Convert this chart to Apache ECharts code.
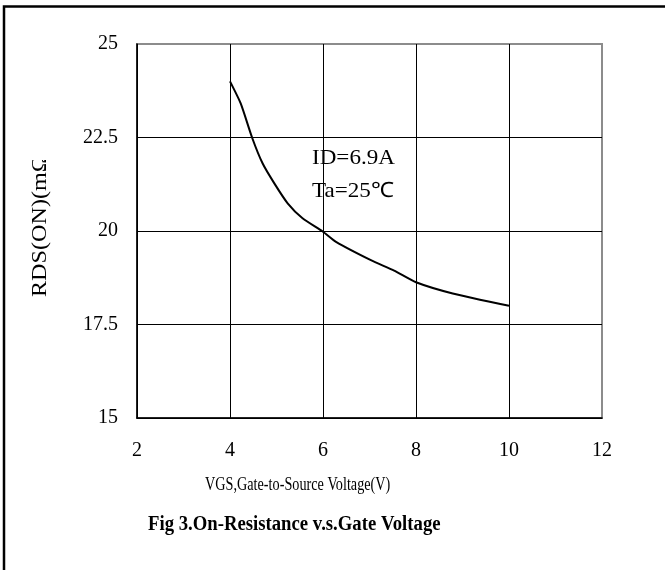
<!DOCTYPE html>
<html>
<head>
<meta charset="utf-8">
<script src="https://cdn.jsdelivr.net/npm/echarts@6/dist/echarts.min.js"></script>
<style>html,body{margin:0;padding:0;background:#fff}#c{width:665px;height:570px}</style>
</head>
<body>
<div id="c"></div>
<script>
const vgs = [4.0, 4.23, 4.48, 4.70, 4.95, 5.24, 5.56, 6.0, 6.28, 7.03, 7.53, 8.0, 8.79, 10.0];
const rdson = [24.0, 23.41, 22.48, 21.81, 21.28, 20.74, 20.34, 19.98, 19.71, 19.22, 18.94, 18.63, 18.33, 18.0];
const xTicks = [2, 4, 6, 8, 10, 12];
const yTicks = [15, 17.5, 20, 22.5, 25];
const xName = 'VGS,Gate-to-Source Voltage(V)';
const yName = 'RDS(ON)(mΩ)';
const title = 'Fig 3.On-Resistance v.s.Gate Voltage';
const notes = ['ID=6.9A', 'Ta=25℃'];

const F = '"Liberation Serif","Times New Roman",serif';
const chart = echarts.init(document.getElementById('c'), null, {renderer: 'canvas'});
chart.setOption({
  animation: false,
  backgroundColor: '#fff',
  grid: {left: 137, right: 63, top: 44, bottom: 152, show: true, borderColor: '#8c8c8c', borderWidth: 2, backgroundColor: 'transparent'},
  xAxis: {
    type: 'value', min: xTicks[0], max: xTicks[xTicks.length - 1], interval: 2,
    axisLine: {show: true, lineStyle: {color: '#000', width: 1.5}},
    axisTick: {show: false},
    splitLine: {show: true, showMaxLine: false, lineStyle: {color: '#000', width: 1}},
    axisLabel: {fontFamily: F, fontSize: 20, color: '#000', margin: 23}
  },
  yAxis: {
    type: 'value', min: yTicks[0], max: yTicks[yTicks.length - 1], interval: 2.5,
    axisLine: {show: true, lineStyle: {color: '#000', width: 1.5}},
    axisTick: {show: false},
    splitLine: {show: true, showMaxLine: false, lineStyle: {color: '#000', width: 1}},
    axisLabel: {fontFamily: F, fontSize: 20, color: '#000', margin: 19}
  },
  series: [{
    type: 'line',
    data: vgs.map((v, i) => [v, rdson[i]]),
    showSymbol: false, smooth: 0.2,
    lineStyle: {color: '#000', width: 2}
  }],
  graphic: [
    {type: 'rect', shape: {x: 4, y: 6.5, width: 700, height: 600}, style: {fill: 'none', stroke: '#000', lineWidth: 2.5}},
    {type: 'text', x: 40, y: 297, rotation: Math.PI / 2, scaleX: 1.15, z: 10,
      style: {text: yName, font: '21px ' + F, fill: '#000', align: 'left', verticalAlign: 'middle'}},
    {type: 'rect', shape: {x: 20, y: 90, width: 40, height: 70}, style: {fill: '#fff'}, z: 11},
    {type: 'text', x: 205, y: 485, scaleX: 0.79, style: {text: xName, font: '18px ' + F, fill: '#000', align: 'left', verticalAlign: 'middle'}},
    {type: 'text', x: 148, y: 525, scaleX: 0.936, style: {text: title, font: 'bold 20px ' + F, fill: '#000', align: 'left', verticalAlign: 'middle'}},
    {type: 'text', x: 312, y: 158, scaleX: 1.1, style: {text: notes[0], font: '21px ' + F, fill: '#000', align: 'left', verticalAlign: 'middle'}},
    {type: 'text', x: 312, y: 191, scaleX: 1.1, style: {text: notes[1], font: '21px ' + F, fill: '#000', align: 'left', verticalAlign: 'middle'}}
  ]
});
</script>
</body>
</html>
